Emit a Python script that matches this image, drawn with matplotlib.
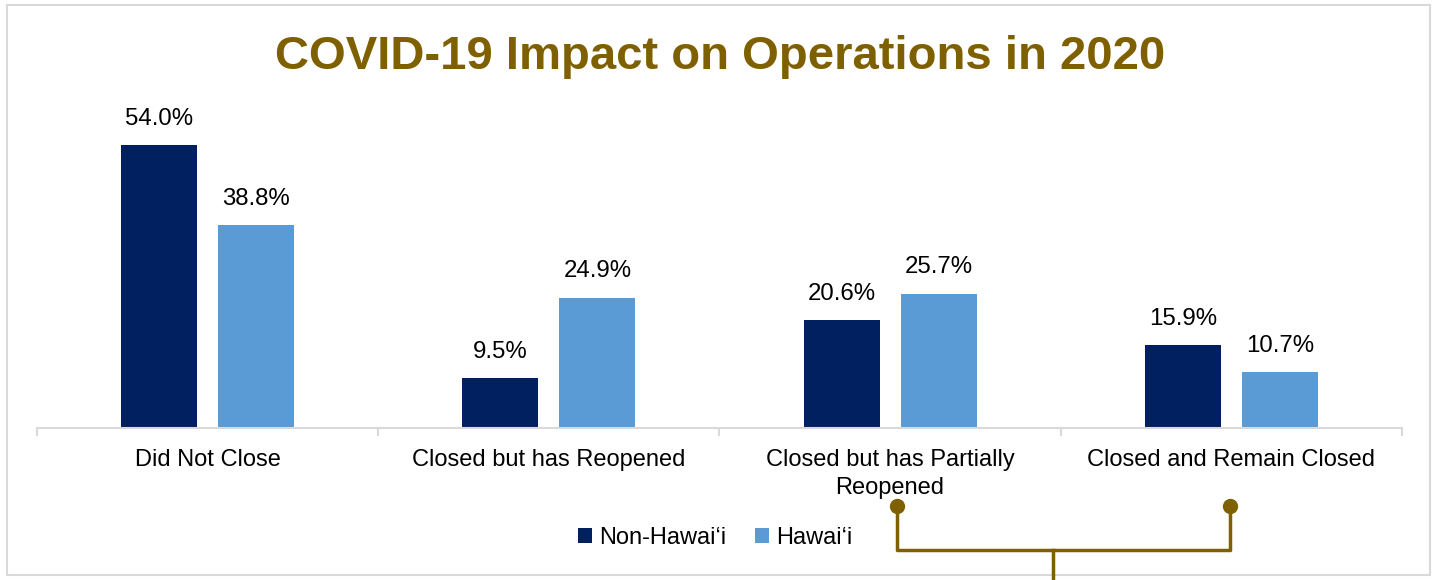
import numpy as np
import matplotlib.pyplot as plt
from matplotlib.patches import Rectangle
from matplotlib.lines import Line2D

plt.rcParams['font.family'] = ['Liberation Sans', 'DejaVu Sans']

# DATA
categories = ["Did Not Close", "Closed but has Reopened",
              "Closed but has Partially\nReopened", "Closed and Remain Closed"]
non_hawaii = [54.0, 9.5, 20.6, 15.9]
hawaii = [38.8, 24.9, 25.7, 10.7]
series_names = ["Non-Hawai\u2018i", "Hawai\u2018i"]

NAVY = "#002060"
LIGHT = "#5B9BD5"
GOLD = "#7F6000"
GRID = "#D9D9D9"

W, H = 1436, 580
fig = plt.figure(figsize=(W / 100, H / 100), dpi=100)

# outer frame
fig.patches.append(Rectangle((7 / W, 1 - 575 / H), (1430 - 7) / W, (575 - 5) / H,
                             transform=fig.transFigure, fill=False,
                             edgecolor=GRID, linewidth=1.5))

ax = fig.add_axes([37 / W, 1 - 428 / H, (1402 - 37) / W, 314 / H])
x = np.arange(len(categories))
bw = 0.223
off = 0.142
b1 = ax.bar(x - off, non_hawaii, bw, color=NAVY, label=series_names[0])
b2 = ax.bar(x + off, hawaii, bw, color=LIGHT, label=series_names[1])
for bars in (b1, b2):
    ax.bar_label(bars, labels=[f"{v:.1f}%" for v in bars.datavalues],
                 padding=11, fontsize=17.3, color="#000000")

ax.set_xlim(-0.5, len(categories) - 0.5)
ax.set_ylim(0, 60)
ax.set_yticks([])
for s in ("top", "right", "left"):
    ax.spines[s].set_visible(False)
ax.spines["bottom"].set_color(GRID)
ax.spines["bottom"].set_linewidth(1.5)
ax.set_xticks(x)
ax.set_xticklabels(categories, fontsize=17, linespacing=1.35)
ax.tick_params(axis="x", which="major", length=0, pad=15)
ax.set_xticks(np.arange(-0.5, len(categories)), minor=True)
ax.tick_params(axis="x", which="minor", length=6, color=GRID, width=1.5)

fig.text(720 / W, 1 - 57 / H, "COVID-19 Impact on Operations in 2020",
         ha="center", va="center", fontsize=34, fontweight="bold", color=GOLD)

fig.legend(loc="center", bbox_to_anchor=(715 / W, 1 - 538 / H), ncol=2,
           frameon=False, fontsize=17, handlelength=0.6, handleheight=0.6,
           handletextpad=0.3, columnspacing=1.2)

# decorative connector from the slide
def fx(px):
    return px / W

def fy(py):
    return 1 - py / H

lw = 2.5
for xs, ys in [([897, 897, 1230, 1230], [506, 550, 550, 506]),
               ([1053, 1053], [550, 580])]:
    fig.lines.append(Line2D([fx(v) for v in xs], [fy(v) for v in ys],
                            transform=fig.transFigure, color=GOLD, linewidth=lw))
fig.lines.append(Line2D([fx(897), fx(1230)], [fy(506), fy(506)],
                        transform=fig.transFigure, linestyle="none",
                        marker="o", markersize=10, color=GOLD))

fig.savefig("out.png", dpi=100)
